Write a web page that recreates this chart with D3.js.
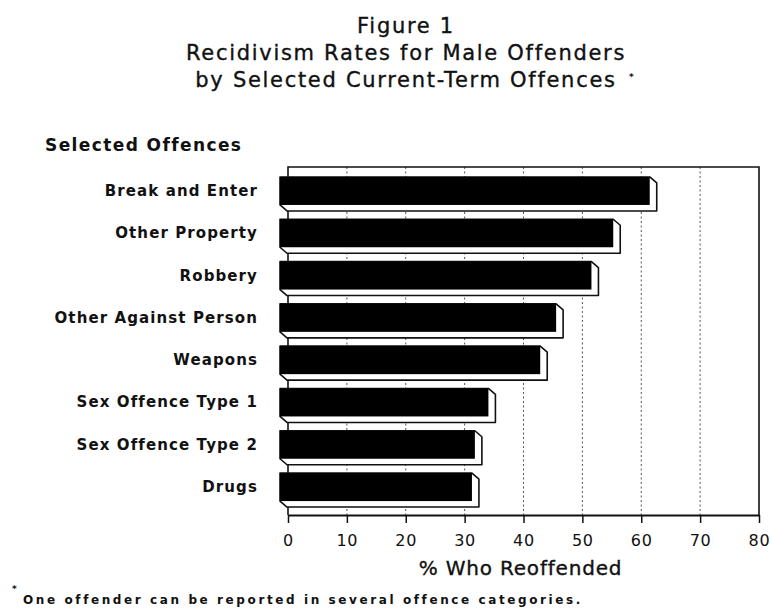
<!DOCTYPE html>
<html>
<head>
<meta charset="utf-8">
<script src="https://cdn.jsdelivr.net/npm/d3@7"></script>
<style>
  html, body { margin: 0; padding: 0; background: #fff; }
  svg { display: block; }
  text { fill: #111; font-family: "DejaVu Sans", sans-serif; }
</style>
</head>
<body>
<svg id="chart" width="772" height="609"></svg>
<script>
// ---- data ----
const categories = ["Break and Enter", "Other Property", "Robbery", "Other Against Person",
                    "Weapons", "Sex Offence Type 1", "Sex Offence Type 2", "Drugs"];
const values = [62.8, 56.6, 52.9, 46.9, 44.2, 35.4, 33.1, 32.6];
const xTicks = [0, 10, 20, 30, 40, 50, 60, 70, 80];
const titleLines = ["Figure 1", "Recidivism Rates for Male Offenders", "by Selected Current-Term Offences"];
const yAxisTitle = "Selected Offences";
const xAxisTitle = "% Who Reoffended";
const footnote = "One offender can be reported in several offence categories.";

// ---- layout ----
const svg = d3.select("#chart");
const plot = { left: 288, right: 759, top: 167, bottom: 515 };
const x = d3.scaleLinear().domain([0, 80]).range([plot.left, plot.right]);
const y = d3.scaleBand().domain(categories).range([169.8, 508.2])
  .paddingInner(0.338).paddingOuter(0.169);
const front = { dx: -8 };      // front face shift relative to back wall
const depth = { dx: 7, dy: 6 }; // 3D depth offset

// title
const title = svg.append("g");
title.selectAll("text").data(titleLines).enter().append("text")
  .attr("x", 406).attr("y", (d, i) => 33 + i * 27)
  .attr("text-anchor", "middle")
  .attr("font-size", 21).attr("letter-spacing", 1.7)
  .attr("stroke", "#111").attr("stroke-width", 0.35)
  .text(d => d);
svg.append("text").attr("x", 629).attr("y", 80).attr("font-size", 9)
  .attr("font-weight", "bold").text("*");

// y-axis title
svg.append("text").attr("x", 45).attr("y", 151)
  .attr("font-size", 17).attr("font-weight", "bold").attr("letter-spacing", 1.4)
  .text(yAxisTitle);

// gridlines
svg.append("g").selectAll("line").data(xTicks.filter(t => t > 0 && t < 80)).enter()
  .append("line")
  .attr("x1", d => x(d)).attr("x2", d => x(d))
  .attr("y1", plot.top).attr("y2", plot.bottom)
  .attr("stroke", "#555").attr("stroke-width", 1).attr("stroke-dasharray", "2,2.5");

// plot frame (top, left, right)
svg.append("path")
  .attr("d", `M${plot.left},${plot.bottom} V${plot.top} H${plot.right} V${plot.bottom}`)
  .attr("fill", "none").attr("stroke", "#111").attr("stroke-width", 1.6);

// x axis
const xAxis = d3.axisBottom(x).tickValues(xTicks).tickSize(8).tickPadding(12).tickSizeOuter(0);
const gx = svg.append("g").attr("transform", `translate(0,${plot.bottom})`).call(xAxis);
gx.select(".domain").attr("stroke", "#111").attr("stroke-width", 1.8);
gx.selectAll(".tick line").attr("stroke", "#111").attr("stroke-width", 1.5);
gx.selectAll(".tick text").attr("font-size", 16).attr("letter-spacing", 0.8)
  .attr("font-family", "DejaVu Sans, sans-serif").attr("fill", "#111");

svg.append("text").attr("x", (plot.left + plot.right) / 2 - 3).attr("y", 575)
  .attr("text-anchor", "middle").attr("font-size", 20).attr("letter-spacing", 0.8)
  .attr("stroke", "#111").attr("stroke-width", 0.35)
  .text(xAxisTitle);

// bars
const bars = svg.append("g").selectAll("g").data(categories).enter().append("g");
bars.append("path")
  .attr("d", (d, i) => {
    const x0 = x(0) + front.dx, x1 = x(values[i]) + front.dx;
    const y0 = y(d), y1 = y(d) + y.bandwidth();
    return `M${x0},${y0} H${x1} L${x1 + depth.dx},${y0 + depth.dy} V${y1 + depth.dy}` +
           ` H${x0 + depth.dx} L${x0},${y1} Z`;
  })
  .attr("fill", "#fff").attr("stroke", "#111").attr("stroke-width", 1.6)
  .attr("stroke-linejoin", "round");
bars.append("rect")
  .attr("x", x(0) + front.dx)
  .attr("y", d => y(d))
  .attr("width", (d, i) => x(values[i]) - x(0))
  .attr("height", y.bandwidth())
  .attr("fill", "#000");

// category labels
svg.append("g").selectAll("text").data(categories).enter().append("text")
  .attr("x", 258).attr("y", d => y(d) + y.bandwidth() / 2 + 5)
  .attr("text-anchor", "end").attr("font-size", 15).attr("font-weight", "bold")
  .attr("letter-spacing", 1.1)
  .text(d => d);

// footnote
svg.append("text").attr("x", 12).attr("y", 592).attr("font-size", 9)
  .attr("font-weight", "bold").text("*");
svg.append("text").attr("x", 23).attr("y", 604).attr("font-size", 12)
  .attr("font-weight", "bold").attr("letter-spacing", 2.6)
  .text(footnote);
</script>
</body>
</html>
